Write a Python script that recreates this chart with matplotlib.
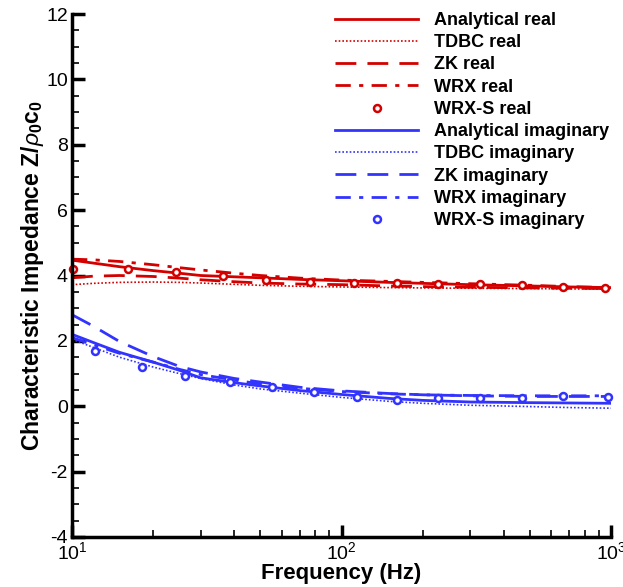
import matplotlib
matplotlib.use("Agg")
import matplotlib.pyplot as plt
from matplotlib.ticker import MultipleLocator, LogLocator, NullFormatter

plt.rcParams['font.family'] = ['Liberation Sans', 'DejaVu Sans']
plt.rcParams['mathtext.fontset'] = 'custom'
plt.rcParams['mathtext.rm'] = 'Liberation Sans'
plt.rcParams['mathtext.it'] = 'Liberation Sans:italic'
plt.rcParams['mathtext.bf'] = 'Liberation Sans:bold'
plt.rcParams['axes.unicode_minus'] = False

freq = [10, 12, 15, 20, 25, 30, 40, 50, 70, 100, 150, 200, 300, 500, 700, 1000]

analytical_real = [4.47, 4.38, 4.27, 4.15, 4.07, 4.00, 3.96, 3.93, 3.88, 3.84, 3.79, 3.76, 3.72, 3.68, 3.65, 3.63]
tdbc_real = [3.72, 3.76, 3.79, 3.80, 3.79, 3.77, 3.73, 3.70, 3.67, 3.65, 3.63, 3.62, 3.61, 3.60, 3.59, 3.58]
zk_real = [3.93, 3.98, 4.00, 3.97, 3.92, 3.87, 3.81, 3.77, 3.74, 3.72, 3.68, 3.66, 3.64, 3.62, 3.61, 3.60]
wrx_real = [4.50, 4.48, 4.43, 4.33, 4.24, 4.17, 4.07, 4.00, 3.92, 3.86, 3.82, 3.79, 3.75, 3.70, 3.66, 3.63]

analytical_imag = [2.20, 1.95, 1.65, 1.35, 1.10, 0.87, 0.72, 0.62, 0.48, 0.36, 0.24, 0.18, 0.13, 0.11, 0.10, 0.09]
tdbc_imag = [2.05, 1.80, 1.50, 1.20, 1.00, 0.85, 0.65, 0.53, 0.40, 0.27, 0.15, 0.09, 0.03, -0.01, -0.04, -0.06]
zk_imag = [2.80, 2.45, 1.98, 1.52, 1.22, 1.05, 0.85, 0.74, 0.58, 0.47, 0.39, 0.35, 0.32, 0.30, 0.30, 0.30]
wrx_imag = [2.10, 1.88, 1.62, 1.35, 1.13, 0.97, 0.80, 0.68, 0.55, 0.45, 0.38, 0.35, 0.33, 0.32, 0.32, 0.32]

wrxs_real_f = [10.1, 16.1, 24.3, 36.3, 52.5, 76.5, 111, 161, 228, 326, 468, 664, 950]
wrxs_real_v = [4.20, 4.19, 4.10, 3.98, 3.85, 3.80, 3.77, 3.76, 3.75, 3.74, 3.72, 3.64, 3.63]
wrxs_imag_f = [12.2, 18.2, 26.3, 38.5, 55, 78.7, 114, 161, 228, 326, 468, 664, 975]
wrxs_imag_v = [1.68, 1.20, 0.92, 0.73, 0.58, 0.43, 0.27, 0.20, 0.24, 0.25, 0.26, 0.30, 0.28]

RED = '#d40000'
BLUE = '#3333ff'

fig = plt.figure(figsize=(6.23, 5.87), dpi=100)
ax = fig.add_axes([0.1156, 0.0852, 0.8654, 0.8909])

ax.plot(freq, analytical_real, color=RED, lw=2, ls='-', label='Analytical real')
ax.plot(freq, tdbc_real, color=RED, lw=1.2, ls=(0, (1, 1.2)), label='TDBC real')
ax.plot(freq, zk_real, color=RED, lw=2, ls=(0, (7.5, 4)), label='ZK real')
ax.plot(freq, wrx_real, color=RED, lw=2, ls=(0, (5.5, 3, 1.5, 3)), label='WRX real')
ax.plot(wrxs_real_f, wrxs_real_v, ls='none', marker='o', ms=5, mfc='white', mec=RED, mew=1.8,
        label='WRX-S real', clip_on=False)
ax.plot(freq, analytical_imag, color=BLUE, lw=2, ls='-', label='Analytical imaginary')
ax.plot(freq, tdbc_imag, color=BLUE, lw=1.2, ls=(0, (1, 1.2)), label='TDBC imaginary')
ax.plot(freq, zk_imag, color=BLUE, lw=2, ls=(0, (7.5, 4)), label='ZK imaginary')
ax.plot(freq, wrx_imag, color=BLUE, lw=2, ls=(0, (5.5, 3, 1.5, 3)), label='WRX imaginary')
ax.plot(wrxs_imag_f, wrxs_imag_v, ls='none', marker='o', ms=5, mfc='white', mec=BLUE, mew=1.8,
        label='WRX-S imaginary', clip_on=False)

ax.set_xscale('log')
ax.set_xlim(10, 1000)
ax.set_ylim(-4, 12)

for s in ['top', 'right']:
    ax.spines[s].set_visible(False)
for s in ['left', 'bottom']:
    ax.spines[s].set_linewidth(2.5)

ax.yaxis.set_major_locator(MultipleLocator(2))
ax.yaxis.set_minor_locator(MultipleLocator(0.5))
ax.xaxis.set_minor_locator(LogLocator(base=10, subs=range(2, 10)))
ax.xaxis.set_minor_formatter(NullFormatter())
ax.tick_params(which='major', direction='in', length=9, width=2.5, labelsize=14, pad=3)
ax.tick_params(which='minor', direction='in', length=5, width=1.2)
ax.tick_params(top=False, right=False, which='both')

ax.set_xlabel('Frequency (Hz)', fontsize=16, fontweight='bold', labelpad=0)
ax.set_ylabel(r'Characteristic Impedance Z/$\rho_\mathbf{0}\mathbf{c}_\mathbf{0}$',
              fontsize=16.5, fontweight='bold', labelpad=0)

leg = ax.legend(loc='upper right', bbox_to_anchor=(1.026, 1.035), frameon=False, numpoints=1,
                handlelength=4.6, handletextpad=0.85, labelspacing=0.29,
                prop={'weight': 'bold', 'size': 13})

fig.savefig('out.png', dpi=100)
